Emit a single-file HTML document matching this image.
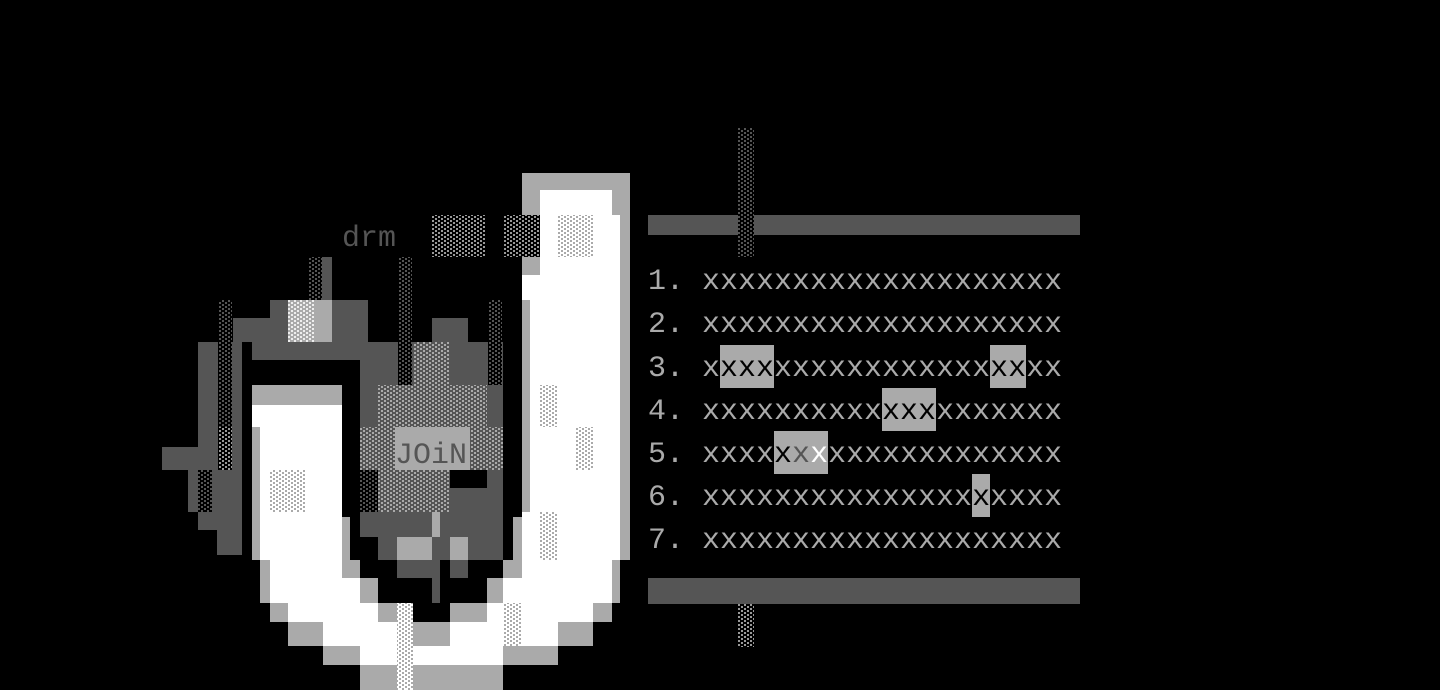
<!DOCTYPE html>
<html><head><meta charset="utf-8"><style>
html,body{margin:0;padding:0;background:#000;width:1440px;height:690px;overflow:hidden}
.t{position:absolute;left:648px;font-family:"Liberation Mono",monospace;font-size:30px;line-height:43px;height:43px;color:#aaa;white-space:pre;letter-spacing:0;padding-top:3px;box-sizing:border-box}
.h{position:absolute;background:#aaa;height:43px}
</style></head><body>
<svg width="1440" height="690" style="position:absolute;left:0;top:0" xmlns="http://www.w3.org/2000/svg">
<defs>
<pattern id="sDk" width="6" height="4" patternUnits="userSpaceOnUse"><rect width="6" height="4" fill="#000"/><rect x="0" y="0" width="2" height="2" fill="#555"/><rect x="3" y="2" width="2" height="2" fill="#555"/></pattern>
<pattern id="sLt" width="6" height="4" patternUnits="userSpaceOnUse"><rect width="6" height="4" fill="#555"/><rect x="0" y="0" width="2" height="2" fill="#aaa"/><rect x="3" y="2" width="2" height="2" fill="#aaa"/></pattern>
<pattern id="sWt" width="6" height="4" patternUnits="userSpaceOnUse"><rect width="6" height="4" fill="#fff"/><rect x="0" y="0" width="2" height="2" fill="#aaa"/><rect x="3" y="2" width="2" height="2" fill="#aaa"/></pattern>
<pattern id="sGb" width="6" height="4" patternUnits="userSpaceOnUse"><rect width="6" height="4" fill="#000"/><rect x="0" y="0" width="2" height="2" fill="#999"/><rect x="3" y="2" width="2" height="2" fill="#999"/></pattern>
<pattern id="sLg" width="6" height="4" patternUnits="userSpaceOnUse"><rect width="6" height="4" fill="#aaa"/><rect x="0" y="0" width="2" height="2" fill="#eee"/><rect x="3" y="2" width="2" height="2" fill="#eee"/></pattern>
</defs>
<rect x="522" y="173" width="108" height="387" fill="#aaa"/>
<rect x="540" y="190" width="72" height="25" fill="#fff"/>
<rect x="540" y="215" width="80" height="345" fill="#fff"/>
<rect x="522" y="275" width="18" height="25" fill="#fff"/>
<rect x="530" y="300" width="10" height="260" fill="#fff"/>
<rect x="522" y="512" width="18" height="48" fill="#fff"/>
<rect x="513" y="517" width="9" height="43" fill="#aaa"/>
<rect x="252" y="385" width="90" height="20" fill="#aaa"/>
<rect x="252" y="405" width="90" height="155" fill="#fff"/>
<rect x="252" y="427" width="8" height="133" fill="#aaa"/>
<rect x="342" y="517" width="8" height="43" fill="#aaa"/>
<rect x="260" y="560" width="10" height="43" fill="#aaa"/>
<rect x="270" y="560" width="72" height="18" fill="#fff"/>
<rect x="342" y="560" width="18" height="18" fill="#aaa"/>
<rect x="503" y="560" width="19" height="18" fill="#aaa"/>
<rect x="522" y="560" width="90" height="43" fill="#fff"/>
<rect x="612" y="560" width="8" height="43" fill="#aaa"/>
<rect x="270" y="578" width="90" height="25" fill="#fff"/>
<rect x="360" y="578" width="18" height="25" fill="#aaa"/>
<rect x="487" y="578" width="16" height="25" fill="#aaa"/>
<rect x="503" y="578" width="19" height="25" fill="#fff"/>
<rect x="270" y="603" width="18" height="19" fill="#aaa"/>
<rect x="288" y="603" width="90" height="19" fill="#fff"/>
<rect x="378" y="603" width="19" height="19" fill="#aaa"/>
<rect x="450" y="603" width="37" height="19" fill="#aaa"/>
<rect x="487" y="603" width="106" height="19" fill="#fff"/>
<rect x="593" y="603" width="19" height="19" fill="#aaa"/>
<rect x="288" y="622" width="35" height="24" fill="#aaa"/>
<rect x="323" y="622" width="74" height="24" fill="#fff"/>
<rect x="413" y="622" width="37" height="24" fill="#aaa"/>
<rect x="450" y="622" width="108" height="24" fill="#fff"/>
<rect x="558" y="622" width="35" height="24" fill="#aaa"/>
<rect x="323" y="646" width="37" height="19" fill="#aaa"/>
<rect x="360" y="646" width="37" height="19" fill="#fff"/>
<rect x="413" y="646" width="90" height="19" fill="#fff"/>
<rect x="503" y="646" width="55" height="19" fill="#aaa"/>
<rect x="360" y="665" width="143" height="25" fill="#aaa"/>
<rect x="397" y="603" width="16" height="87" fill="url(#sWt)"/>
<rect x="503" y="603" width="19" height="43" fill="url(#sWt)"/>
<rect x="270" y="300" width="98" height="18" fill="#555"/>
<rect x="233" y="318" width="135" height="24" fill="#555"/>
<rect x="198" y="342" width="44" height="170" fill="#555"/>
<rect x="252" y="342" width="108" height="18" fill="#555"/>
<rect x="162" y="447" width="36" height="23" fill="#555"/>
<rect x="188" y="470" width="27" height="42" fill="#555"/>
<rect x="198" y="512" width="44" height="18" fill="#555"/>
<rect x="217" y="530" width="25" height="25" fill="#555"/>
<rect x="432" y="318" width="36" height="24" fill="#555"/>
<rect x="360" y="342" width="143" height="170" fill="#555"/>
<rect x="360" y="512" width="143" height="25" fill="#555"/>
<rect x="378" y="537" width="125" height="23" fill="#555"/>
<rect x="397" y="537" width="35" height="23" fill="#aaa"/>
<rect x="450" y="537" width="18" height="23" fill="#aaa"/>
<rect x="432" y="512" width="8" height="25" fill="#aaa"/>
<rect x="397" y="560" width="43" height="18" fill="#555"/>
<rect x="450" y="560" width="18" height="18" fill="#555"/>
<rect x="432" y="578" width="8" height="25" fill="#555"/>
<rect x="450" y="470" width="37" height="18" fill="#000"/>
<rect x="308" y="257" width="14" height="43" fill="url(#sDk)"/>
<rect x="322" y="257" width="10" height="43" fill="#555"/>
<rect x="288" y="300" width="27" height="42" fill="url(#sLg)"/>
<rect x="315" y="300" width="17" height="42" fill="#aaa"/>
<rect x="398" y="257" width="14" height="128" fill="url(#sDk)"/>
<rect x="218" y="300" width="14" height="170" fill="url(#sDk)"/>
<rect x="218" y="427" width="14" height="43" fill="url(#sGb)"/>
<rect x="488" y="300" width="14" height="85" fill="url(#sDk)"/>
<rect x="198" y="470" width="14" height="42" fill="url(#sDk)"/>
<rect x="413" y="342" width="37" height="43" fill="url(#sLt)"/>
<rect x="378" y="385" width="109" height="42" fill="url(#sLt)"/>
<rect x="360" y="427" width="143" height="43" fill="url(#sLt)"/>
<rect x="395" y="427" width="75" height="43" fill="#aaa"/>
<rect x="360" y="470" width="18" height="42" fill="url(#sDk)"/>
<rect x="378" y="470" width="72" height="42" fill="url(#sLt)"/>
<rect x="432" y="215" width="54" height="42" fill="url(#sGb)"/>
<rect x="504" y="215" width="36" height="42" fill="url(#sGb)"/>
<rect x="558" y="215" width="36" height="42" fill="url(#sWt)"/>
<rect x="270" y="470" width="36" height="42" fill="url(#sWt)"/>
<rect x="540" y="385" width="17" height="42" fill="url(#sWt)"/>
<rect x="576" y="427" width="18" height="43" fill="url(#sWt)"/>
<rect x="540" y="512" width="17" height="48" fill="url(#sWt)"/>
<text x="342" y="246" font-family="Liberation Mono, monospace" font-size="30" fill="#555">drm</text>
<text x="395" y="463" font-family="Liberation Mono, monospace" font-size="30" fill="#555">JOiN</text>
<rect x="648" y="215" width="432" height="20" fill="#555"/>
<rect x="648" y="578" width="432" height="26" fill="#555"/>
<rect x="738" y="128" width="16" height="129" fill="url(#sDk)"/>
<rect x="738" y="604" width="16" height="43" fill="url(#sGb)"/>
</svg>
<div class="h" style="left:720px;top:345px;width:54px"></div>
<div class="h" style="left:990px;top:345px;width:36px"></div>
<div class="h" style="left:882px;top:388px;width:54px"></div>
<div class="h" style="left:774px;top:431px;width:54px"></div>
<div class="h" style="left:972px;top:474px;width:18px"></div>
<div class="t" style="top:258px">1. xxxxxxxxxxxxxxxxxxxx</div>
<div class="t" style="top:301px">2. xxxxxxxxxxxxxxxxxxxx</div>
<div class="t" style="top:345px">3. x<span style="color:#000">xxx</span>xxxxxxxxxxxx<span style="color:#000">xx</span>xx</div>
<div class="t" style="top:388px">4. xxxxxxxxxx<span style="color:#000">xxx</span>xxxxxxx</div>
<div class="t" style="top:431px">5. xxxx<span style="color:#000">x</span><span style="color:#555">x</span><span style="color:#fff">x</span>xxxxxxxxxxxxx</div>
<div class="t" style="top:474px">6. xxxxxxxxxxxxxxx<span style="color:#000">x</span>xxxx</div>
<div class="t" style="top:517px">7. xxxxxxxxxxxxxxxxxxxx</div>
</body></html>
